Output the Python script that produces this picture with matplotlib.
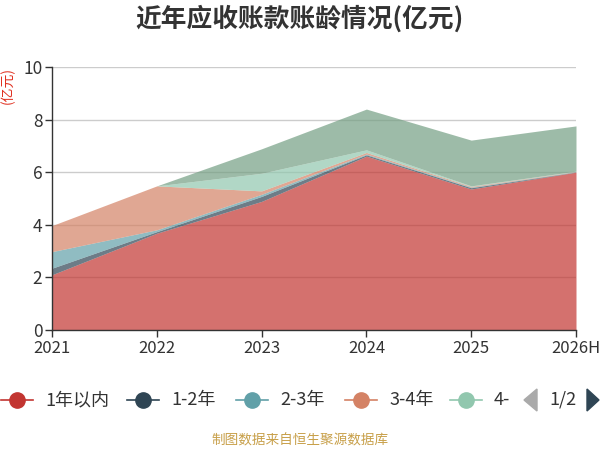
import matplotlib
matplotlib.use("Agg")
import matplotlib.pyplot as plt
import numpy as np

plt.rcParams['font.family'] = ['Noto Sans CJK SC', 'DejaVu Sans']

years = ['2021', '2022', '2023', '2024', '2025', '2026H']
series_names = ['1年以内', '1-2年', '2-3年', '3-4年', '4-5年', '5年以上']
v_lt1 = [2.10, 3.68, 4.89, 6.61, 5.36, 6.00]
v_1_2 = [0.25, 0.06, 0.19, 0.05, 0.05, 0.01]
v_2_3 = [0.63, 0.07, 0.08, 0.03, 0.02, 0.01]
v_3_4 = [0.99, 1.67, 0.13, 0.06, 0.03, 0.01]
v_4_5 = [0.00, 0.00, 0.67, 0.10, 0.02, 0.01]
v_gt5 = [0.00, 0.00, 0.93, 1.55, 1.74, 1.72]
colors = ['#c23531', '#2f4554', '#61a0a8', '#d48265', '#91c7ae', '#749f83']

W, H = 600, 450
fig = plt.figure(figsize=(6, 4.5), dpi=100)
L, R, T, B = 52, 576, 67, 330
ax = fig.add_axes([L / W, 1 - B / H, (R - L) / W, (B - T) / H])

x = np.arange(len(years))
data = [v_lt1, v_1_2, v_2_3, v_3_4, v_4_5, v_gt5]
base = np.zeros(len(years))
for vals, c in zip(data, colors):
    top = base + np.array(vals)
    ax.fill_between(x, base, top, color=c, alpha=0.7, linewidth=0, zorder=2)
    base = top

ax.set_xlim(0, len(years) - 1)
ax.set_ylim(0, 10)
ax.set_yticks([0, 2, 4, 6, 8, 10])
ax.set_xticks(x)
ax.set_xticklabels(years)
ax.yaxis.grid(True, color='#cccccc', linewidth=1, zorder=1)
ax.set_axisbelow(True)
for s in ['top', 'right']:
    ax.spines[s].set_visible(False)
for s in ['left', 'bottom']:
    ax.spines[s].set_color('#333333')
    ax.spines[s].set_linewidth(1)
ax.tick_params(axis='both', colors='#333333', labelsize=12.5, length=5, width=1)
ax.tick_params(axis='x', labelsize=12, pad=2)
ax.tick_params(axis='y', pad=2)

fig.text(300 / W, 1 - 19 / H, '近年应收账款账龄情况(亿元)', ha='center', va='center',
         fontsize=18.5, fontweight='bold', color='#333333')
fig.text(8 / W, 1 - 86 / H, '(亿元)', ha='center', va='center', rotation=90,
         fontsize=10, color='#e03020')

# legend
ly = 1 - 400 / H
cx = [17, 143, 252, 361, 466]
labels = ['1年以内', '1-2年', '2-3年', '3-4年', '4-']
for c, lab, col in zip(cx, labels, colors[:5]):
    fig.add_artist(plt.Line2D([(c - 16) / W, (c + 16) / W], [ly, ly], color=col, lw=1.2,
                              transform=fig.transFigure))
    fig.add_artist(plt.Line2D([c / W], [ly], marker='o', markersize=11, color=col,
                              transform=fig.transFigure, linestyle='none'))
    fig.text((c + 28) / W, ly, lab, ha='left', va='center', fontsize=13, color='#333333')
fig.add_artist(plt.Polygon([[524 / W, ly], [537 / W, ly + 11 / H], [537 / W, ly - 11 / H]],
                           closed=True, color='#aaaaaa', transform=fig.transFigure))
fig.text(563 / W, ly, '1/2', ha='center', va='center', fontsize=13, color='#333333')
fig.add_artist(plt.Polygon([[599 / W, ly], [587 / W, ly + 11 / H], [587 / W, ly - 11 / H]],
                           closed=True, color='#2f4554', transform=fig.transFigure))

fig.text(300 / W, 1 - 440 / H, '制图数据来自恒生聚源数据库', ha='center', va='center',
         fontsize=9.8, color='#c8a04a')

fig.savefig('out.png', dpi=100)
